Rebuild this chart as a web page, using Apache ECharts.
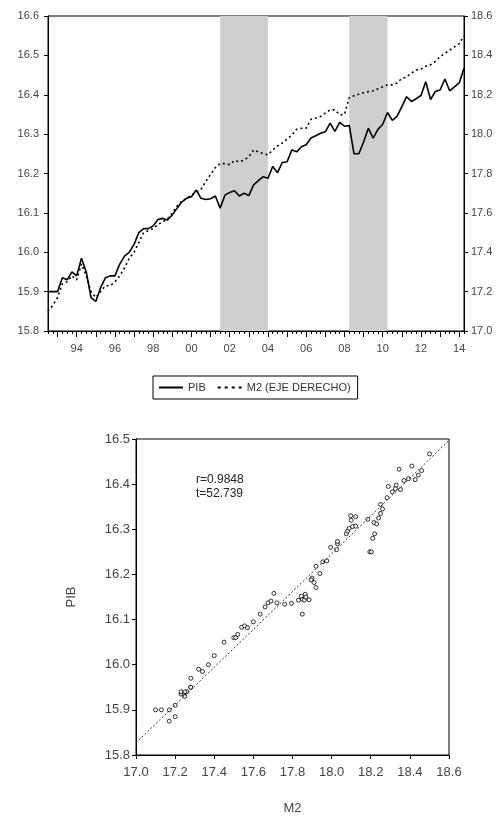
<!DOCTYPE html>
<html>
<head>
<meta charset="utf-8">
<script src="https://cdn.jsdelivr.net/npm/echarts@6/dist/echarts.min.js"></script>
<style>
  html, body { margin: 0; padding: 0; background: #fff; }
  #main { width: 498px; height: 816px; }
</style>
</head>
<body>
<div id="main"></div>
<script>
// quarterly series, 1992Q3 - 2014Q2
const startYear = 1992, startQuarter = 3;
const pib = [
  15.90, 15.90, 15.90, 15.935, 15.93, 15.95, 15.94, 15.985, 15.95, 15.885, 15.875, 15.91,
  15.935, 15.94, 15.94, 15.97, 15.99, 16.00, 16.02, 16.05, 16.06, 16.06, 16.067,
  16.083, 16.086, 16.082, 16.095, 16.112, 16.128, 16.137, 16.141, 16.158, 16.137, 16.134,
  16.136, 16.143, 16.112, 16.145, 16.152, 16.156, 16.143, 16.150, 16.144, 16.171, 16.182,
  16.192, 16.188, 16.218, 16.202, 16.228, 16.23, 16.26, 16.255, 16.268, 16.273, 16.29,
  16.296, 16.302, 16.306, 16.328, 16.307, 16.33, 16.32, 16.322, 16.25, 16.25, 16.28,
  16.315, 16.29, 16.312, 16.325, 16.355, 16.335, 16.345, 16.37, 16.395, 16.383, 16.39,
  16.398, 16.433, 16.388, 16.408, 16.412, 16.44, 16.41, 16.42, 16.43, 16.467
];
const m2 = [
  17.10, 17.13, 17.17, 17.24, 17.25, 17.28, 17.26, 17.34, 17.28, 17.20, 17.17, 17.20,
  17.23, 17.23, 17.25, 17.28, 17.32, 17.37, 17.40, 17.45, 17.50, 17.51, 17.52,
  17.54, 17.555, 17.57, 17.60, 17.635, 17.66, 17.675, 17.69, 17.705, 17.72, 17.76,
  17.795, 17.83, 17.85, 17.85, 17.845, 17.865, 17.86, 17.868, 17.885, 17.92, 17.91,
  17.90, 17.895, 17.92, 17.94, 17.955, 17.975, 17.995, 18.025, 18.03, 18.03, 18.075,
  18.082, 18.09, 18.107, 18.123, 18.123, 18.098, 18.10, 18.185, 18.195, 18.203, 18.21,
  18.216, 18.22, 18.23, 18.24, 18.25, 18.25, 18.26, 18.283, 18.29, 18.31, 18.326,
  18.33, 18.345, 18.352, 18.37, 18.393, 18.41, 18.427, 18.443, 18.46, 18.50
];
// shaded periods
const shaded = [['2001Q3', '2004Q1'], ['2008Q2', '2010Q2']];
// dotted fitted line in the scatter (M2, PIB)
const fitM2 = [17.0, 18.6];
const fitPib = [15.827, 16.497];
const statsText = ['r=0.9848', 't=52.739'];

const quarters = [];
for (let i = 0; i < pib.length; i++) {
  const q = startQuarter - 1 + i;
  quarters.push((startYear + Math.floor(q / 4)) + 'Q' + (q % 4 + 1));
}
const isYearLabel = (idx, v) => v.slice(4) === 'Q1' && (+v.slice(0, 4)) % 2 === 0;
const pairs = m2.map((v, i) => [v, pib[i]]);

const FONT = 'Liberation Sans, Arial, sans-serif';
const GREY = '#444';
// legend samples: solid bar and short dashes
const solidIcon = 'path://M0,0H24V2H0Z';
const dashIcon = 'path://M0,0H3V2H0Z M7,0H10V2H7Z M14,0H17V2H14Z M21,0H24V2H21Z';

const chart = echarts.init(document.getElementById('main'));
chart.setOption({
  animation: false,
  textStyle: { fontFamily: FONT },
  grid: [
    { left: 48, top: 16, width: 416, height: 315, show: true, borderColor: '#000', borderWidth: 1 },
    { left: 136, top: 439, width: 313, height: 316, show: true, borderColor: '#000', borderWidth: 1 }
  ],
  legend: {
    left: 153, top: 376,
    padding: [6, 7, 6, 6],
    borderColor: '#000', borderWidth: 1, borderRadius: 0,
    itemWidth: 24, itemHeight: 2, itemGap: 12,
    data: [
      { name: 'PIB', icon: solidIcon },
      { name: 'M2 (EJE DERECHO)', icon: dashIcon }
    ],
    itemStyle: { color: '#000' },
    textStyle: { fontSize: 11, color: '#333', fontFamily: FONT, lineHeight: 11 }
  },
  xAxis: [
    {
      type: 'category', gridIndex: 0, data: quarters, boundaryGap: false,
      axisLine: { lineStyle: { color: '#000' } },
      axisTick: { interval: 0, length: 3, lineStyle: { color: '#000' } },
      axisLabel: { interval: isYearLabel, formatter: v => v.slice(2, 4), fontSize: 11, color: GREY, margin: 12 },
      splitLine: { show: false }
    },
    {
      type: 'category', gridIndex: 0, data: quarters, boundaryGap: false, position: 'bottom',
      axisLine: { show: false },
      axisTick: { interval: (idx, v) => v.slice(4) === 'Q1', length: 6, lineStyle: { color: '#000' } },
      axisLabel: { show: false },
      splitLine: { show: false }
    },
    {
      type: 'value', gridIndex: 1, min: 17.0, max: 18.6, interval: 0.2,
      name: 'M2', nameLocation: 'middle', nameGap: 47,
      nameTextStyle: { fontSize: 13, color: GREY },
      axisLine: { lineStyle: { color: '#000' } },
      axisTick: { length: 4, lineStyle: { color: '#000' } },
      axisLabel: { formatter: v => v.toFixed(1), fontSize: 13, color: GREY, margin: 11 },
      splitLine: { show: false }
    }
  ],
  yAxis: [
    {
      type: 'value', gridIndex: 0, min: 15.8, max: 16.6, interval: 0.1,
      axisLine: { show: true, lineStyle: { color: '#000' } },
      axisTick: { show: true, length: 4, lineStyle: { color: '#000' } },
      axisLabel: { formatter: v => v.toFixed(1), fontSize: 11, color: GREY, margin: 9 },
      splitLine: { show: false }
    },
    {
      type: 'value', gridIndex: 0, min: 17.0, max: 18.6, interval: 0.2, position: 'right',
      axisLine: { show: true, lineStyle: { color: '#000' } },
      axisTick: { show: true, length: 4, lineStyle: { color: '#000' } },
      axisLabel: { formatter: v => v.toFixed(1), fontSize: 11, color: GREY, margin: 7 },
      splitLine: { show: false }
    },
    {
      type: 'value', gridIndex: 1, min: 15.8, max: 16.5, interval: 0.1,
      name: 'PIB', nameLocation: 'middle', nameGap: 58, nameRotate: 90,
      nameTextStyle: { fontSize: 13, color: GREY },
      axisLine: { show: true, lineStyle: { color: '#000' } },
      axisTick: { show: true, length: 4, lineStyle: { color: '#000' } },
      axisLabel: { formatter: v => v.toFixed(1), fontSize: 13, color: GREY, margin: 6 },
      splitLine: { show: false }
    }
  ],
  series: [
    {
      name: 'PIB', type: 'line', xAxisIndex: 0, yAxisIndex: 0,
      data: pib, showSymbol: false, symbol: 'none',
      lineStyle: { color: '#000', width: 1.6 },
      itemStyle: { color: '#000' },
      markArea: {
        silent: true,
        itemStyle: { color: '#cfcfcf' },
        data: shaded.map(s => [{ xAxis: s[0] }, { xAxis: s[1] }])
      },
      z: 3
    },
    {
      name: 'M2 (EJE DERECHO)', type: 'line', xAxisIndex: 0, yAxisIndex: 1,
      data: m2, showSymbol: false, symbol: 'none',
      lineStyle: { color: '#000', width: 1.6, type: [2, 3] },
      itemStyle: { color: '#000' },
      z: 3
    },
    {
      name: 'fit', type: 'line', xAxisIndex: 2, yAxisIndex: 2,
      data: fitM2.map((v, i) => [v, fitPib[i]]), showSymbol: false, symbol: 'none',
      lineStyle: { color: '#333', width: 1, type: [2, 2] }
    },
    {
      name: 'scatter', type: 'scatter', xAxisIndex: 2, yAxisIndex: 2,
      data: pairs, symbol: 'circle', symbolSize: 4,
      itemStyle: { color: '#fff', borderColor: '#000', borderWidth: 1 }
    }
  ],
  graphic: [
    {
      type: 'text', left: 196, top: 473,
      style: { text: statsText.join('\n'), font: '12px ' + FONT, fill: '#222', lineHeight: 14 }
    }
  ]
});
</script>
</body>
</html>
